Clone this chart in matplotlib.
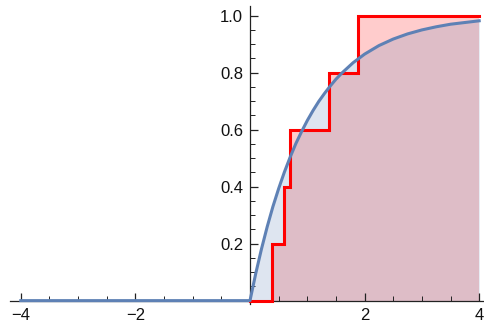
import matplotlib
matplotlib.use("Agg")
import matplotlib.pyplot as plt
import numpy as np

step_x = [0.0, 0.39, 0.59, 0.69, 1.38, 1.89, 4.0]
step_y = [0.0, 0.2, 0.4, 0.6, 0.8, 1.0, 1.0]

# smooth CDF curve
curve_x = [-4.0, 0.0, 0.1, 0.2, 0.3, 0.4, 0.5, 0.6, 0.7, 0.8, 0.9, 1.0, 1.1, 1.2, 1.3, 1.4,
           1.5, 1.6, 1.8, 2.0, 2.25, 2.5, 2.75, 3.0, 3.25, 3.5, 3.75, 4.0]
curve_y = [0.0, 0.0, 0.095, 0.181, 0.259, 0.330, 0.393, 0.451, 0.503, 0.551, 0.593, 0.632,
           0.667, 0.699, 0.727, 0.753, 0.777, 0.798, 0.835, 0.865, 0.895, 0.918, 0.936,
           0.950, 0.961, 0.970, 0.976, 0.982]

xticks = [-4, -2, 2, 4]
yticks = [0.2, 0.4, 0.6, 0.8, 1.0]

blue = "#5E81B5"
red = "#FF0000"

plt.rcParams["font.family"] = ["Liberation Sans", "DejaVu Sans"]

fig = plt.figure(figsize=(4.84, 3.24), dpi=100)
ax = fig.add_axes([0, 0, 1, 1])
ax.set_xlim(-4.363, 4.084)
ax.set_ylim(-0.082, 1.055)

ax.fill_between(step_x, step_y, 0, step="post", color=red, alpha=0.2, linewidth=0)
ax.fill_between(curve_x, curve_y, 0, color=blue, alpha=0.2, linewidth=0)
ax.step(step_x, step_y, where="post", color=red, linewidth=2.2, solid_joinstyle="miter", zorder=3)
ax.plot(curve_x, curve_y, color=blue, linewidth=2.2, zorder=4)

for s in ["top", "right"]:
    ax.spines[s].set_visible(False)
ax.spines["left"].set_position(("data", 0))
ax.spines["bottom"].set_position(("data", 0))
ax.spines["bottom"].set_bounds(-4.19, 4.084)
ax.spines["left"].set_bounds(-0.012, 1.035)
for s in ["left", "bottom"]:
    ax.spines[s].set_color("#222222")
    ax.spines[s].set_linewidth(0.9)

ax.set_xticks(xticks)
ax.set_xticklabels(["\u22124", "\u22122", "2", "4"])
ax.set_yticks(yticks)
ax.set_yticklabels(["0.2", "0.4", "0.6", "0.8", "1.0"])
ax.set_xticks(np.arange(-4, 4.01, 0.5), minor=True)
ax.set_yticks(np.arange(0, 1.001, 0.05), minor=True)
ax.tick_params(which="major", direction="in", length=5.5, width=0.9, color="#222222",
               labelsize=12, labelcolor="#111111")
ax.tick_params(which="minor", direction="in", length=3.5, width=0.7, color="#222222")
ax.tick_params(axis="x", pad=5)
ax.tick_params(axis="y", pad=5)

fig.savefig("out.png", dpi=100)
